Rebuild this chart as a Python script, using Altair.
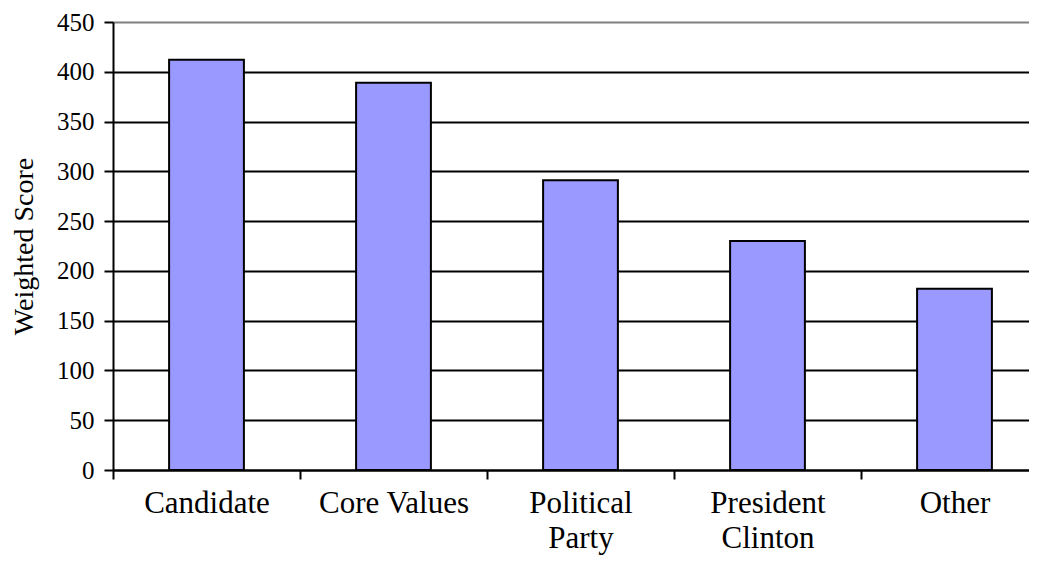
import altair as alt
import pandas as pd

categories = ["Candidate", "Core Values", "Political Party", "President Clinton", "Other"]
scores = [412, 389, 291, 230, 182]
y_ticks = [0, 50, 100, 150, 200, 250, 300, 350, 400, 450]

df = pd.DataFrame({"category": categories, "score": scores})

FONT = "Liberation Serif"

chart = alt.Chart(df).mark_bar(
    color="#9999FF", stroke="black", strokeWidth=2,
    width=alt.RelativeBandSize(0.4),
).encode(
    x=alt.X(
        "category:N",
        sort=categories,
        scale=alt.Scale(paddingInner=0, paddingOuter=0, range=[0, 935]),
        axis=alt.Axis(
            title=None,
            labelAngle=0,
            labelFont=FONT,
            labelFontSize=31,
            labelColor="black",
            labelLineHeight=35,
            labelPadding=9,
            labelExpr="indexof(['Political Party', 'President Clinton'], datum.value) >= 0 ? split(datum.value, ' ') : datum.value",
            tickBand="extent",
            tickSize=9,
            tickColor="black",
            tickWidth=2,
            domainColor="black",
            domainWidth=2,
            grid=False,
        ),
    ),
    y=alt.Y(
        "score:Q",
        scale=alt.Scale(domain=[0, 450], nice=False),
        axis=alt.Axis(
            title="Weighted Score",
            titleFont=FONT,
            titleFontSize=28,
            titleFontWeight="normal",
            titleColor="black",
            titlePadding=18,
            values=y_ticks,
            labelFont=FONT,
            labelFontSize=25,
            labelColor="black",
            labelPadding=10,
            tickSize=9,
            tickColor="black",
            tickWidth=2,
            domainColor="black",
            domainWidth=2,
            grid=True,
            gridColor={"condition": {"test": "datum.value === 450", "value": "#808080"}, "value": "black"},
            gridWidth=2,
            gridOpacity=1,
        ),
    ),
).properties(
    width=916,
    height=448,
    autosize=alt.AutoSizeParams(type="none"),
    padding={"left": 105, "top": 14, "right": 0, "bottom": 90},
).configure_view(
    stroke=None
).configure(
    background="white"
)

chart.save("out.html", embed_options={"renderer": "svg", "actions": False})
